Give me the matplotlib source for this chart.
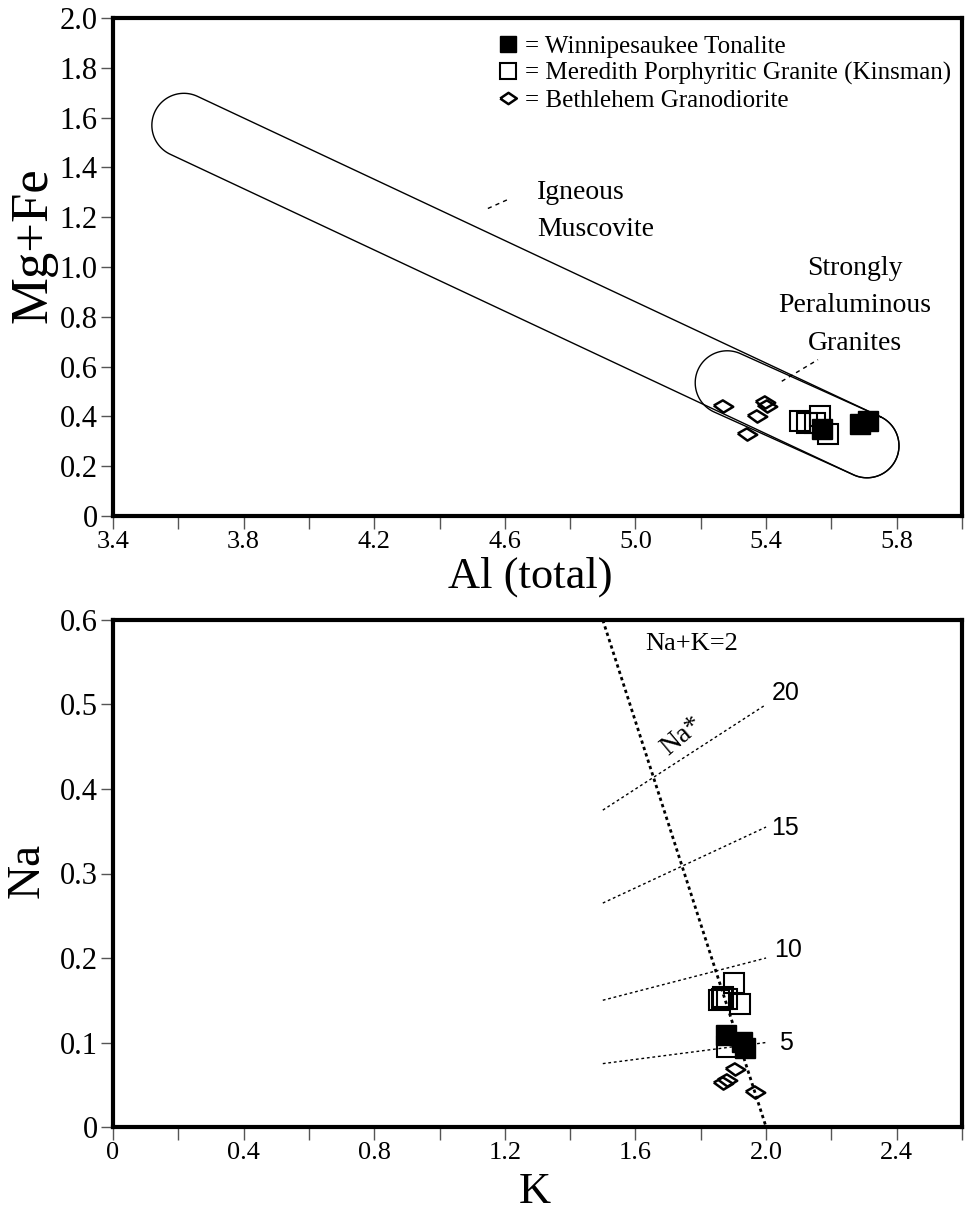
import numpy as np
import matplotlib
matplotlib.use('Agg')
import matplotlib.pyplot as plt
from matplotlib.lines import Line2D
from matplotlib.ticker import MultipleLocator, FixedLocator, FuncFormatter

plt.rcParams['font.family'] = ['Liberation Serif', 'DejaVu Serif']

# ---- top panel: Al (total) vs Mg+Fe
al_winni = [5.570, 5.688, 5.713]
mgfe_winni = [0.349, 0.369, 0.382]
al_mered = [5.504, 5.524, 5.550, 5.565, 5.591]
mgfe_mered = [0.382, 0.375, 0.375, 0.402, 0.329]
al_beth = [5.269, 5.341, 5.371, 5.397, 5.404]
mgfe_beth = [0.443, 0.329, 0.402, 0.456, 0.443]

# field outlines (centre of the two round ends, Al / Mg+Fe)
musc_field = [(3.617, 1.569), (5.709, 0.282)]
spg_field = [(5.281, 0.535), (5.709, 0.282)]

# ---- bottom panel: K vs Na
k_winni = [1.876, 1.925, 1.935]
na_winni = [0.109, 0.101, 0.094]
k_mered = [1.881, 1.857, 1.864, 1.869, 1.880, 1.920, 1.902]
na_mered = [0.095, 0.150, 0.152, 0.154, 0.152, 0.146, 0.171]
k_beth = [1.869, 1.879, 1.905, 1.966]
na_beth = [0.052, 0.056, 0.069, 0.042]

nak2_k = [1.5, 2.0]
nak2_na = [0.6, 0.0]

nastar_labels = ['5', '10', '15', '20']
nastar_k = [1.5, 2.0]
nastar_na = [[0.075, 0.100], [0.150, 0.200], [0.265, 0.355], [0.375, 0.500]]
nastar_lab_k = [2.062, 2.068, 2.058, 2.060]
nastar_lab_na = [0.099, 0.209, 0.354, 0.514]

legend_labels = ['= Winnipesaukee Tonalite',
                 '= Meredith Porphyritic Granite (Kinsman)',
                 '= Bethlehem Granodiorite']

# tilted diamond like the one in the scan
tilt_diamond = [(-1, 0.1), (-0.07, 0.63), (1, -0.03), (0, -0.63), (-1, 0.1)]
flat_diamond = [(-1, 0), (0, 0.68), (1, 0), (0, -0.68), (-1, 0)]

W, H = 966, 1213
fig = plt.figure(figsize=(W / 100, H / 100), dpi=100)
ax1 = fig.add_axes([113 / W, 1 - 516 / H, 849 / W, 498 / H])
ax2 = fig.add_axes([113 / W, 1 - 1127 / H, 849 / W, 507 / H])


def fmt(v, pos):
    if abs(v) < 1e-9:
        return '0'
    return '%.1f' % v


def style(ax):
    for s in ax.spines.values():
        s.set_linewidth(3)
    ax.tick_params(which='both', direction='out', length=9, width=1,
                   color='#555555', pad=2)
    ax.tick_params(axis='y', labelsize=22)
    ax.tick_params(axis='x', labelsize=19)


def capsule(ax, p1, p2, r_px):
    # round-ended band drawn in pixel-like space so the caps stay round
    bb = ax.get_position()
    x0, x1 = ax.get_xlim()
    y0, y1 = ax.get_ylim()
    sx = bb.width * W / (x1 - x0)
    sy = bb.height * H / (y1 - y0)
    a = np.array([p1[0] * sx, p1[1] * sy])
    b = np.array([p2[0] * sx, p2[1] * sy])
    ang = np.arctan2(*(b - a)[::-1])
    t2 = np.linspace(ang + np.pi / 2, ang - np.pi / 2, 60)
    t1 = np.linspace(ang - np.pi / 2, ang - 3 * np.pi / 2, 60)
    xs = np.concatenate([b[0] + r_px * np.cos(t2), a[0] + r_px * np.cos(t1), [b[0] + r_px * np.cos(t2[0])]])
    ys = np.concatenate([b[1] + r_px * np.sin(t2), a[1] + r_px * np.sin(t1), [b[1] + r_px * np.sin(t2[0])]])
    ax.plot(xs / sx, ys / sy, color='black', lw=1.0)


# ---------------- top panel
ax1.set_xlim(3.4, 6.0)
ax1.set_ylim(0, 2.0)
style(ax1)
ax1.xaxis.set_major_locator(FixedLocator(np.arange(3.4, 5.81, 0.4)))
ax1.xaxis.set_minor_locator(MultipleLocator(0.2))
ax1.yaxis.set_major_locator(MultipleLocator(0.2))
ax1.xaxis.set_major_formatter(FuncFormatter(fmt))
ax1.yaxis.set_major_formatter(FuncFormatter(fmt))

capsule(ax1, musc_field[0], musc_field[1], 32)
capsule(ax1, spg_field[0], spg_field[1], 32)

ax1.plot(al_beth, mgfe_beth, ls='none', marker=tilt_diamond, ms=14,
         mfc='none', mec='black', mew=1.8)
ax1.plot(al_mered, mgfe_mered, ls='none', marker='s', ms=14,
         mfc='none', mec='black', mew=1.5)
ax1.plot(al_winni, mgfe_winni, ls='none', marker='s', ms=14,
         mfc='black', mec='black', mew=1.0)

ax1.text(4.699, 1.30, 'Igneous', fontsize=20, ha='left', va='center')
ax1.text(4.699, 1.151, 'Muscovite', fontsize=20, ha='left', va='center')
ax1.plot([4.548, 4.616], [1.235, 1.275], color='black', lw=1, ls=(0, (3, 3)))
ax1.text(5.671, 0.994, 'Strongly', fontsize=20, ha='center', va='center')
ax1.text(5.671, 0.845, 'Peraluminous', fontsize=20, ha='center', va='center')
ax1.text(5.671, 0.692, 'Granites', fontsize=20, ha='center', va='center')
ax1.plot([5.448, 5.559], [0.541, 0.628], color='black', lw=1, ls=(0, (3, 3)))

handles = [Line2D([], [], ls='none', marker='s', ms=11, mfc='black', mec='black'),
           Line2D([], [], ls='none', marker='s', ms=11, mfc='white', mec='black', mew=1.5),
           Line2D([], [], ls='none', marker=flat_diamond, ms=12, mfc='white', mec='black', mew=1.8)]
ax1.legend(handles, legend_labels, loc='upper left', bbox_to_anchor=(0.451, 0.965),
           frameon=False, fontsize=18, handlelength=1.0, handletextpad=0.15,
           labelspacing=0.17, borderaxespad=0, borderpad=0)

ax1.set_ylabel('Mg+Fe', fontsize=38)
ax1.yaxis.label.set_va('center')
ax1.yaxis.set_label_coords(-0.094, 0.543)
ax1.set_xlabel('Al (total)', fontsize=32)
ax1.xaxis.label.set_va('center')
ax1.xaxis.set_label_coords(0.491, -0.121)

# ---------------- bottom panel
ax2.set_xlim(0, 2.6)
ax2.set_ylim(0, 0.6)
style(ax2)
ax2.xaxis.set_major_locator(FixedLocator(np.arange(0, 2.41, 0.4)))
ax2.xaxis.set_minor_locator(MultipleLocator(0.2))
ax2.yaxis.set_major_locator(MultipleLocator(0.1))
ax2.xaxis.set_major_formatter(FuncFormatter(fmt))
ax2.yaxis.set_major_formatter(FuncFormatter(fmt))

ax2.plot(nak2_k, nak2_na, color='black', lw=2, ls=(0, (1.2, 1.2)))
for lab, na, lk, ln in zip(nastar_labels, nastar_na, nastar_lab_k, nastar_lab_na):
    ax2.plot(nastar_k, na, color='black', lw=1, ls=(0, (2, 2)))
    ax2.text(lk, ln, lab, fontsize=18, family=['Liberation Sans', 'DejaVu Sans'],
             ha='center', va='center')
ax2.text(1.742, 0.462, 'Na*', fontsize=20, rotation=40, ha='center', va='center')
ax2.text(1.772, 0.572, 'Na+K=2', fontsize=19, ha='center', va='center')

ax2.plot(k_beth, na_beth, ls='none', marker=tilt_diamond, ms=14,
         mfc='none', mec='black', mew=1.8)
ax2.plot(k_mered, na_mered, ls='none', marker='s', ms=14,
         mfc='none', mec='black', mew=1.5)
ax2.plot(k_winni, na_winni, ls='none', marker='s', ms=14,
         mfc='black', mec='black', mew=1.0)

ax2.set_ylabel('Na', fontsize=34)
ax2.yaxis.label.set_va('center')
ax2.yaxis.set_label_coords(-0.101, 0.507)
ax2.set_xlabel('K', fontsize=32)
ax2.xaxis.label.set_va('center')
ax2.xaxis.set_label_coords(0.497, -0.128)

fig.savefig('out.png', dpi=100)
